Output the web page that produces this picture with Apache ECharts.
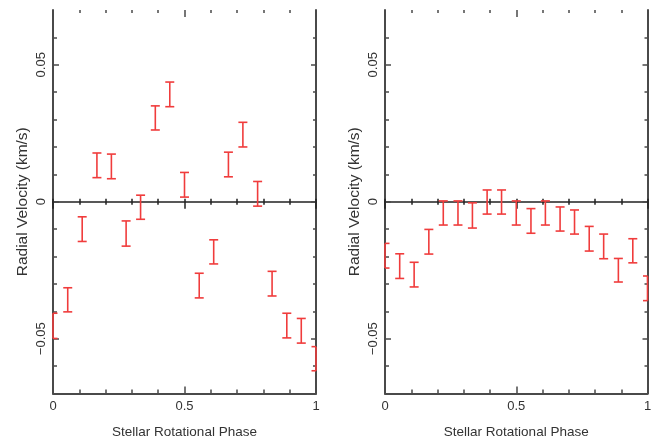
<!DOCTYPE html>
<html><head><meta charset="utf-8">
<script src="https://cdn.jsdelivr.net/npm/echarts@6/dist/echarts.min.js"></script>
<style>html,body{margin:0;padding:0;background:#fff}#c{width:660px;height:441px}</style>
</head><body><div id="c"></div>
<script>
// ---- data ----
const phaseLeft = [0.000,0.056,0.111,0.167,0.222,0.278,0.333,0.389,0.444,0.500,0.556,0.611,0.667,0.722,0.778,0.833,0.889,0.944,1.000];
const rvLeft    = [-0.0453,-0.0358,-0.0100,0.0133,0.0129,-0.0116,-0.0020,0.0306,0.0392,0.0062,-0.0306,-0.0183,0.0136,0.0245,0.0029,-0.0299,-0.0452,-0.0471,-0.0573];
const errLeft   = [0.0046,0.0044,0.0045,0.0045,0.0045,0.0046,0.0044,0.0044,0.0045,0.0045,0.0045,0.0044,0.0045,0.0045,0.0045,0.0045,0.0045,0.0045,0.0044];
const phaseRight = [0.000,0.056,0.111,0.167,0.222,0.278,0.333,0.389,0.444,0.500,0.556,0.611,0.667,0.722,0.778,0.833,0.889,0.944,1.000];
const rvRight    = [-0.0197,-0.0235,-0.0266,-0.0146,-0.0041,-0.0041,-0.0050,-0.0001,-0.0001,-0.0041,-0.0070,-0.0041,-0.0063,-0.0074,-0.0135,-0.0163,-0.0250,-0.0179,-0.0316];
const errRight   = [0.0045,0.0045,0.0045,0.0045,0.0044,0.0044,0.0046,0.0044,0.0044,0.0044,0.0045,0.0044,0.0044,0.0044,0.0045,0.0045,0.0043,0.0044,0.0045];
const xMajorTicks = [0, 0.5, 1];
const xMinorTicks = [0.1,0.2,0.3,0.4,0.6,0.7,0.8,0.9];
const yMajorTicks = [-0.05, 0, 0.05];
const yMinorTicks = [-0.06,-0.04,-0.03,-0.02,-0.01,0.01,0.02,0.03,0.04,0.06];
const xTitle = 'Stellar Rotational Phase';
const yTitle = 'Radial Velocity (km/s)';
const X_MIN = 0, X_MAX = 1, Y_MIN = -0.07, Y_MAX = 0.07;

// ---- styling ----
const FRAME = '#4a4a4a', ZERO = '#222', RED = '#f03c3c', TXT = '#333';
const FONT = 'Liberation Sans, Arial, sans-serif';
const fmt = v => (v < 0 ? '\u2212' + String(-v) : String(v));
const grids = [
  {left: 53, top: 10, width: 263, height: 383.5, outerBoundsMode: 'none', containLabel: false},
  {left: 385, top: 10, width: 262.5, height: 383.5, outerBoundsMode: 'none', containLabel: false}
];

const xAxes = [], yAxes = [], series = [];
function xa(g, o) {
  return Object.assign({gridIndex: g, type: 'value', min: X_MIN, max: X_MAX,
    splitLine: {show: false}, axisLabel: {show: false}, axisLine: {show: false, onZero: false}}, o);
}
function ya(g, o) {
  return Object.assign({gridIndex: g, type: 'value', min: Y_MIN, max: Y_MAX,
    splitLine: {show: false}, axisLabel: {show: false}, axisLine: {show: false, onZero: false}}, o);
}
const tick = (vals, len, inside, color, w) => ({show: true, customValues: vals, inside: inside, length: len, lineStyle: {color: color, width: w}});

const datasets = [[phaseLeft, rvLeft, errLeft], [phaseRight, rvRight, errRight]];
for (let g = 0; g < 2; g++) {
  const xBase = xAxes.length, yBase = yAxes.length;
  // bottom frame
  xAxes.push(xa(g, {position: 'bottom',
    axisLine: {show: true, onZero: false, lineStyle: {color: FRAME, width: 2}},
    axisTick: tick(xMajorTicks, 7, true, FRAME, 1.5),
    axisLabel: {show: true, customValues: xMajorTicks, formatter: fmt, margin: 6.5, fontSize: 13, color: TXT, fontFamily: FONT},
    name: xTitle, nameLocation: 'middle', nameGap: 32,
    nameTextStyle: {fontSize: 13.5, color: TXT, fontFamily: FONT}}));
  xAxes.push(xa(g, {position: 'bottom', axisTick: tick(xMinorTicks, 4, true, FRAME, 1.5)}));
  // top ticks
  xAxes.push(xa(g, {position: 'top', axisTick: tick(xMajorTicks, 7, true, FRAME, 1.5)}));
  xAxes.push(xa(g, {position: 'top', axisTick: tick(xMinorTicks, 3, true, FRAME, 1.5)}));
  // zero line with crossing ticks
  xAxes.push(xa(g, {position: 'bottom',
    axisLine: {show: true, onZero: true, lineStyle: {color: ZERO, width: 1.5}},
    axisTick: tick(xMajorTicks.concat(xMinorTicks), 3, true, ZERO, 1.5)}));
  xAxes.push(xa(g, {position: 'top', axisLine: {show: false, onZero: true},
    axisTick: tick(xMinorTicks, 3, true, ZERO, 1.5)}));
  xAxes.push(xa(g, {position: 'top', axisLine: {show: false, onZero: true},
    axisTick: tick(xMajorTicks, 7, true, ZERO, 1.5)}));
  // left frame
  yAxes.push(ya(g, {position: 'left',
    axisLine: {show: true, onZero: false, lineStyle: {color: FRAME, width: 2}},
    axisTick: tick(yMajorTicks, 6, true, FRAME, 1.5),
    axisLabel: {show: true, customValues: yMajorTicks, formatter: fmt, rotate: 90, margin: 5, fontSize: 13, color: TXT, fontFamily: FONT},
    name: yTitle, nameLocation: 'middle', nameGap: 22,
    nameTextStyle: {fontSize: 15.5, color: TXT, fontFamily: FONT}}));
  yAxes.push(ya(g, {position: 'left', axisTick: tick(yMinorTicks, 4, true, FRAME, 1.5)}));
  // right frame
  yAxes.push(ya(g, {position: 'right',
    axisLine: {show: true, onZero: false, lineStyle: {color: FRAME, width: 2}},
    axisTick: tick(yMajorTicks, 5, true, FRAME, 1.5)}));
  yAxes.push(ya(g, {position: 'right', axisTick: tick(yMinorTicks, 3, true, FRAME, 1.5)}));

  const [ph, rv, er] = datasets[g];
  series.push({
    type: 'custom', xAxisIndex: xBase, yAxisIndex: yBase, clip: false, z: 5,
    data: ph.map((p, i) => [p, rv[i] - er[i], rv[i] + er[i]]),
    renderItem: function (params, api) {
      const cs = params.coordSys;
      const x = api.value(0);
      const p1 = api.coord([x, api.value(1)]);
      const p2 = api.coord([x, api.value(2)]);
      const cw = 4.5;
      const xl = Math.max(cs.x, p1[0] - cw), xr = Math.min(cs.x + cs.width, p1[0] + cw);
      const style = {stroke: RED, lineWidth: 1.6, fill: null};
      return {type: 'group', children: [
        {type: 'line', shape: {x1: p1[0], y1: p1[1], x2: p2[0], y2: p2[1]}, style: style},
        {type: 'line', shape: {x1: xl, y1: p1[1], x2: xr, y2: p1[1]}, style: style},
        {type: 'line', shape: {x1: xl, y1: p2[1], x2: xr, y2: p2[1]}, style: style}
      ]};
    }
  });
}

const chart = echarts.init(document.getElementById('c'), null, {renderer: 'canvas'});
chart.setOption({
  animation: false,
  backgroundColor: '#fff',
  grid: grids,
  xAxis: xAxes,
  yAxis: yAxes,
  series: series
});
</script></body></html>
